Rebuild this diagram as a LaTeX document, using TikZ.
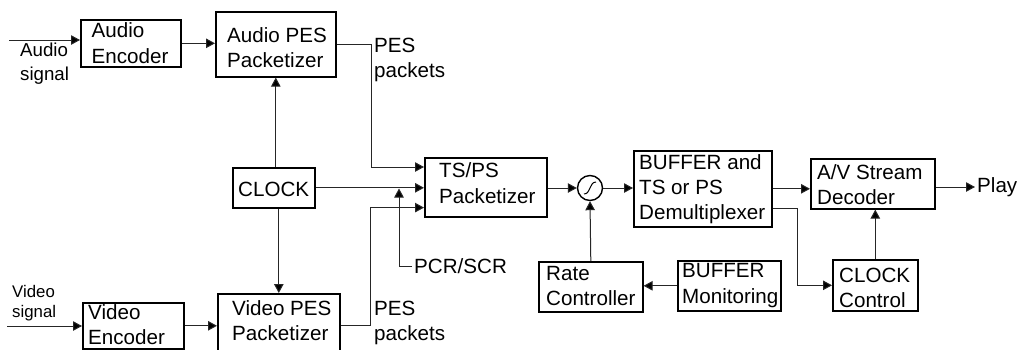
\documentclass[tikz,border=0pt]{standalone}
\usepackage{fontspec}
\setmainfont{Liberation Sans}
\usetikzlibrary{arrows.meta}
\newcommand{\bxfnt}{\fontsize{20.6pt}{25pt}\selectfont}
\newcommand{\sgfnt}{\fontsize{18.7pt}{24pt}\selectfont}
\newcommand{\vsfnt}{\fontsize{16.8pt}{20.5pt}\selectfont}
\newcommand{\st}{\rule{0pt}{17pt}}
\begin{document}
\begin{tikzpicture}[x=1pt,y=-1pt,
  box/.style={draw=black,line width=1.6pt,inner sep=0pt,anchor=north west},
  txt/.style={inner sep=0pt,anchor=north west,align=left,font=\bxfnt,text=black},
  conn/.style={draw=black!85,line width=1pt,-{Triangle[length=9pt,width=9.5pt,fill=black]}},
  line/.style={draw=black!85,line width=1pt}]
\useasboundingbox (0,0) rectangle (1019,349);
\clip (0,0) rectangle (1019,349);
\fill[white] (0,0) rectangle (1019,349);
% boxes
\node[box,minimum width=100pt,minimum height=47pt] (aenc) at (80,19) {};
\node[box,minimum width=120pt,minimum height=65pt] (apes) at (215,11) {};
\node[box,minimum width=82pt,minimum height=40pt] (clock) at (232,167) {};
\node[box,minimum width=122pt,minimum height=59pt] (tsps) at (424,157) {};
\node[box,minimum width=101pt,minimum height=46pt] (venc) at (82,302) {};
\node[box,minimum width=122pt,minimum height=64pt] (vpes) at (217,293) {};
\node[box,minimum width=138pt,minimum height=76pt] (buf) at (633,150) {};
\node[box,minimum width=124pt,minimum height=50pt] (av) at (810,158) {};
\node[box,minimum width=85pt,minimum height=51pt] (cctl) at (832,259) {};
\node[box,minimum width=104pt,minimum height=50pt] (rate) at (538,261) {};
\node[box,minimum width=103pt,minimum height=50pt] (mon) at (677,260) {};
\node[draw=black,line width=1.4pt,circle,minimum size=25pt,inner sep=0pt] (mix) at (590,188) {};
% texts
\node[txt] (aenct) at (91.5,20) {\st Audio\\[1pt]Encoder};
\node[txt] (apest) at (227,25) {\st Audio PES\\Packetizer};
\node[txt] (clockt) at (238,179) {\st CLOCK};
\node[txt] (tspst) at (439,160) {\st TS/PS\\[1pt]Packetizer};
\node[txt] (venct) at (88,302) {\st Video\\Encoder};
\node[txt] (vpest) at (232,298) {\st Video PES\\Packetizer};
\node[txt] (buft) at (639,152) {\st BUFFER and\\TS or PS\\Demultiplexer};
\node[txt] (avt) at (817,162) {\st A/V Stream\\Decoder};
\node[txt] (cctlt) at (839,265) {\st CLOCK\\Control};
\node[txt] (ratet) at (546,263) {\st Rate\\Controller};
\node[txt] (mont) at (682,260) {\st BUFFER\\[1pt]Monitoring};
\node[txt] (pes1) at (374,35) {\st PES\\packets};
\node[txt] (pes2) at (374,298) {\st PES\\packets};
\node[txt,font=\sgfnt] (asig) at (20,39) {\st Audio\\signal};
\node[txt,font=\vsfnt] (vsig) at (12,280) {\st Video\\signal};
\node[inner sep=0pt,inner xsep=2pt,anchor=west,font=\bxfnt] (pcr) at (412,266) {PCR/SCR};
\node[inner sep=0pt,inner xsep=2pt,anchor=west,font=\bxfnt] (play) at (975,187) {Play};
% sigmoid in mixer
\draw[black,line width=1pt] (584,194) .. controls (591,194) and (589,182) .. (596,182);
% free ends
\coordinate (as) at (9,40);
\coordinate (vs) at (7,326);
\coordinate (pcrtip) at (399,188.5);
% connectors
\draw[conn] (as) -- (as -| aenc.west);
\draw[conn] (aenc.east) -- (aenc.east -| apes.west);
\draw[conn] (apes.east) -- ++(35,0) |- ([yshift=-10pt]tsps.north west);
\draw[conn] (apes.south |- clock.north) -- (apes.south);
\draw[conn] (vpes.north |- clock.south) -- (vpes.north);
\draw[conn] (clock.east) -- (clock.east -| tsps.west);
\draw[conn] (vs) -- (vs -| venc.west);
\draw[conn] (venc.east) -- (venc.east -| vpes.west);
\draw[conn] (vpes.east) -- ++(30,0) |- ([yshift=10pt]tsps.south west);
\draw[conn] (pcr.west) -| (pcrtip);
\draw[conn] (mix -| tsps.east) -- (mix.west);
\draw[conn] (mix.east) -- (mix -| buf.west);
\draw[conn] (buf.east) -- (buf.east -| av.west);
\draw[conn] (play.west -| av.east) -- (play.west);
\draw[conn] ([yshift=-20pt]buf.east) -- ++(25,0) |- (cctl.west);
\draw[conn] (cctl.north) -- (cctl.north |- av.south);
\draw[conn] (rate.north) -- (mix.south);
\draw[conn] (mon.west) -- (mon.west -| rate.east);
\end{tikzpicture}
\end{document}
